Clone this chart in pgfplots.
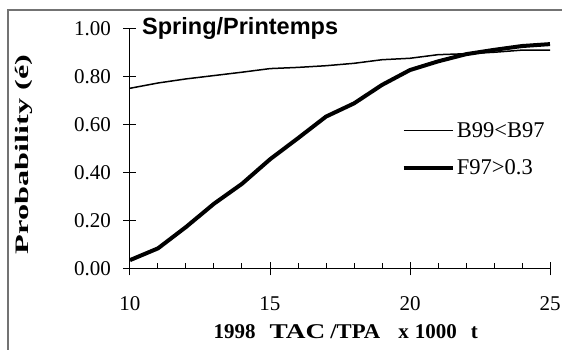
\documentclass[border=0pt]{standalone}
\usepackage{fontspec}
\setmainfont{Liberation Serif}
\newfontfamily\arialfont{Liberation Sans}
\usepackage{pgfplots}
\pgfplotsset{compat=1.18}
\begin{document}
\begin{tikzpicture}
\useasboundingbox (-130pt,-81pt) rectangle (432pt,269pt);
\draw[black!55, line width=1.3pt] (-122pt,-81pt) -- (-122pt,259pt) -- (432pt,259pt);
\begin{axis}[
  scale only axis, width=420pt, height=240pt,
  xmin=10, xmax=25, ymin=0, ymax=1,
  axis x line*=bottom, axis y line*=left,
  axis line style={-, line width=1pt, black},
  xtick={10,15,20,25}, minor x tick num=4,
  ytick={0,0.2,0.4,0.6,0.8,1},
  tick align=center, major tick length=13pt, minor tick length=6pt,
  tick style={black, line width=1pt},
  minor x tick style={yshift=3pt},
  yticklabel style={/pgf/number format/.cd, fixed, fixed zerofill, precision=2, /tikz/.cd, xshift=-9pt},
  xticklabel style={yshift=-18pt},
  /pgf/number format/assume math mode=true,
  tick label style={font=\fontsize{21}{25}\selectfont},
  xlabel={\textbf{1998\hspace{14pt}\scalebox{1.3}[1]{TAC}\hspace{5pt}\scalebox{1.08}[1]{/TPA}\hspace{18pt}x\hspace{6pt}1000\hspace{14pt}t}},
  xlabel style={font=\fontsize{21}{25}\selectfont, at={(axis description cs:0.8286,-0.2875)}, anchor=base east, inner sep=0pt},
  ylabel={\scalebox{1.7}[1]{\textbf{Probability (é)}}},
  ylabel style={font=\fontsize{19}{23}\selectfont, at={(axis description cs:-0.252,0.477)}, anchor=center},
  clip=false,
  legend cell align=left,
  legend style={draw=none, fill=none, at={(axis description cs:0.647,0.62)}, anchor=north west,
    font=\fontsize{22.5}{27}\selectfont, row sep=17pt, inner sep=0pt},
  legend image code/.code={\draw[#1] (0pt,0pt) -- (43pt,0pt); \path (0pt,0pt) -- (49pt,0pt);},
]
\addplot[black, line width=1.5pt, line join=round] coordinates {
(10,0.753) (11,0.775) (12,0.792) (13,0.806) (14,0.820) (15,0.835) (16,0.840) (17,0.847)
(18,0.857) (19,0.872) (20,0.878) (21,0.893) (22,0.897) (23,0.903) (24,0.912) (25,0.912)};
\addlegendentry{B99<B97}
\addplot[black, line width=4pt, line join=round] coordinates {
(10,0.037) (11,0.086) (12,0.175) (13,0.272) (14,0.355) (15,0.457) (16,0.545) (17,0.635)
(18,0.690) (19,0.767) (20,0.829) (21,0.865) (22,0.895) (23,0.913) (24,0.929) (25,0.937)};
\addlegendentry{F97>0.3}
\node[anchor=base west, font=\arialfont\bfseries\fontsize{23.5}{28}\selectfont, inner sep=0pt]
  at (axis description cs:0.0286,0.975) {Spring/Printemps};
\end{axis}
\end{tikzpicture}
\end{document}
